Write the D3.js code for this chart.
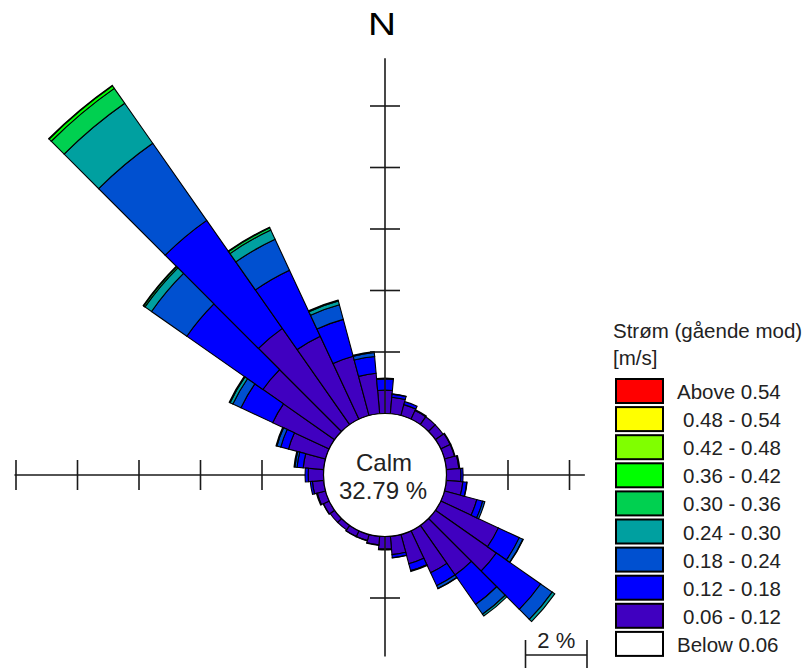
<!DOCTYPE html>
<html>
<head>
<meta charset="utf-8">
<script src="https://cdn.jsdelivr.net/npm/d3@7"></script>
<style>
  body { margin: 0; background: #fff; }
  svg { display: block; font-family: "Liberation Sans", Arial, sans-serif; }
</style>
</head>
<body>
<svg id="chart"></svg>
<script>
// direction sectors (going towards), 10 degree bins
const directions = [0, 10, 20, 30, 40, 50, 60, 70, 80, 90, 100, 110, 120, 130, 140, 150, 160, 170,
  180, 190, 200, 210, 220, 230, 240, 250, 260, 270, 280, 290, 300, 310, 320, 330, 340, 350]

// frequency in % per speed class
const s006_012 = [0.76, 0.54, 0.37, 0.31, 0.31, 0.31, 0.34, 0.34, 0.41, 0.47, 0.54, 1.09, 2.07, 2.42, 1.97, 1.51, 0.99, 0.60,
  0.41, 0.28, 0.21, 0.21, 0.18, 0.18, 0.21, 0.28, 0.37, 0.50, 0.67, 1.25, 2.03, 2.85, 3.82, 2.98, 2.00, 1.32]
const s012_018 = [0.36, 0.10, 0.10, 0.03, 0, 0, 0.02, 0.02, 0.03, 0.07, 0.13, 0.20, 0.75, 1.76, 1.17, 0.46, 0.23, 0.10,
  0.03, 0.02, 0.01, 0.01, 0, 0, 0.01, 0.03, 0.07, 0.10, 0.20, 0.26, 1.14, 3.02, 4.29, 2.37, 1.24, 0.55]
const s018_024 = [0.03, 0.01, 0, 0, 0, 0, 0, 0, 0, 0, 0.01, 0.07, 0.13, 0.46, 0.39, 0.10, 0.03, 0.01,
  0, 0, 0, 0, 0, 0, 0, 0, 0, 0, 0.07, 0.13, 0.29, 1.40, 3.06, 1.11, 0.49, 0.13]
const s024_030 = [0, 0, 0, 0, 0, 0, 0, 0, 0, 0, 0, 0, 0.01, 0.10, 0.07, 0.01, 0, 0,
  0, 0, 0, 0, 0, 0, 0, 0, 0, 0, 0.03, 0.03, 0.10, 0.26, 1.59, 0.33, 0.13, 0.03]
const s030_036 = [0, 0, 0, 0, 0, 0, 0, 0, 0, 0, 0, 0, 0, 0, 0, 0, 0, 0,
  0, 0, 0, 0, 0, 0, 0, 0, 0, 0, 0, 0, 0.03, 0.05, 0.59, 0.08, 0.03, 0]
const s036_042 = [0, 0, 0, 0, 0, 0, 0, 0, 0, 0, 0, 0, 0, 0, 0, 0, 0, 0,
  0, 0, 0, 0, 0, 0, 0, 0, 0, 0, 0, 0, 0, 0.02, 0.10, 0.02, 0, 0]
const s042_048 = [0, 0, 0, 0, 0, 0, 0, 0, 0, 0, 0, 0, 0, 0, 0, 0, 0, 0,
  0, 0, 0, 0, 0, 0, 0, 0, 0, 0, 0, 0, 0, 0, 0.02, 0, 0, 0]
const s048_054 = [0, 0, 0, 0, 0, 0, 0, 0, 0, 0, 0, 0, 0, 0, 0, 0, 0, 0,
  0, 0, 0, 0, 0, 0, 0, 0, 0, 0, 0, 0, 0, 0, 0, 0, 0, 0]
const s054_up = [0, 0, 0, 0, 0, 0, 0, 0, 0, 0, 0, 0, 0, 0, 0, 0, 0, 0,
  0, 0, 0, 0, 0, 0, 0, 0, 0, 0, 0, 0, 0, 0, 0, 0, 0, 0]

const calmPct = 32.79

// legend, top to bottom
const legendLabels = ['Above 0.54', '0.48 - 0.54', '0.42 - 0.48', '0.36 - 0.42', '0.30 - 0.36',
  '0.24 - 0.30', '0.18 - 0.24', '0.12 - 0.18', '0.06 - 0.12', 'Below 0.06']
const legendColors = ['#ff0000', '#ffff00', '#80ff00', '#00ff00', '#00d050',
  '#00a0a0', '#0050d0', '#0000ff', '#4000c0', '#ffffff']

// stack order, inside out
const keys = ['s006_012', 's012_018', 's018_024', 's024_030', 's030_036', 's036_042', 's042_048', 's048_054', 's054_up']
const series = [s006_012, s012_018, s018_024, s024_030, s030_036, s036_042, s042_048, s048_054, s054_up]
const keyColor = {}
keys.forEach((k, i) => { keyColor[k] = legendColors[8 - i] })

const width = 812, height = 668
const cx = 385, cy = 475
const calmR = 61.5

// 2 % per 61.5 px, measured from the calm circle edge
const r = d3.scaleLinear().domain([0, 10]).range([calmR, calmR + 307.5])

const svg = d3.select('#chart').attr('width', width).attr('height', height)

const rows = directions.map((dir, i) => {
  let row = { dir: dir }
  keys.forEach((k, j) => { row[k] = series[j][i] })
  return row
})
const stacked = d3.stack().keys(keys)(rows)

const rad = a => a * Math.PI / 180
const arc = d3.arc()
  .innerRadius(d => r(d[0]))
  .outerRadius(d => r(d[1]))
  .startAngle(d => rad(d.data.dir - 5))
  .endAngle(d => rad(d.data.dir + 5))

const g = svg.append('g').attr('transform', `translate(${cx},${cy})`)

// axes: how far each arm reaches (in %) and where ticks sit
const armExtent = { up: 11.55, down: 3.9, left: 10.05, right: 4.5 }
const ticksUp = [2, 4, 6, 8, 10]
const ticksLeft = [2, 4, 6, 8, 10]
const ticksRight = [2, 4]
const ticksDown = [2]
const tickHalf = 15
const axisColor = '#1a1a1a'

// horizontal arm sits under the bars
const axH = g.append('g').attr('stroke', axisColor).attr('stroke-width', 1.6)
axH.append('line').attr('y1', 0).attr('y2', 0).attr('x1', -r(armExtent.left)).attr('x2', r(armExtent.right))
axH.selectAll('line.tl').data(ticksLeft).join('line').attr('class', 'tl')
  .attr('y1', -tickHalf).attr('y2', tickHalf).attr('x1', d => -r(d)).attr('x2', d => -r(d))
axH.selectAll('line.tr').data(ticksRight).join('line').attr('class', 'tr')
  .attr('y1', -tickHalf).attr('y2', tickHalf).attr('x1', d => r(d)).attr('x2', d => r(d))

g.selectAll('g.layer')
  .data(stacked)
  .join('g')
  .attr('class', 'layer')
  .attr('fill', d => keyColor[d.key])
  .selectAll('path')
  .data(d => d.filter(p => p[1] - p[0] > 0))
  .join('path')
  .attr('d', arc)
  .attr('stroke', '#000')
  .attr('stroke-width', 1.1)
  .attr('stroke-linejoin', 'miter')

// vertical arm is drawn over them
const axV = g.append('g').attr('stroke', axisColor).attr('stroke-width', 1.6)
axV.append('line').attr('x1', 0).attr('x2', 0).attr('y1', -r(armExtent.up)).attr('y2', r(armExtent.down))
axV.selectAll('line.tu').data(ticksUp).join('line').attr('class', 'tu')
  .attr('x1', -tickHalf).attr('x2', tickHalf).attr('y1', d => -r(d)).attr('y2', d => -r(d))
axV.selectAll('line.td').data(ticksDown).join('line').attr('class', 'td')
  .attr('x1', -tickHalf).attr('x2', tickHalf).attr('y1', d => r(d)).attr('y2', d => r(d))

// calm circle
g.append('circle').attr('r', calmR).attr('fill', '#fff').attr('stroke', '#000').attr('stroke-width', 1.2)
g.append('text').attr('x', -1).attr('y', -4).attr('text-anchor', 'middle')
  .attr('font-size', 24).attr('fill', '#222').text('Calm')
g.append('text').attr('x', -2).attr('y', 24).attr('text-anchor', 'middle')
  .attr('font-size', 24).attr('fill', '#222').text(calmPct.toFixed(2) + ' %')

// north label
svg.append('text').attr('text-anchor', 'middle')
  .attr('transform', `translate(${cx - 3},35) scale(1.25,1)`)
  .attr('font-size', 31).attr('fill', '#000').text('N')

// scale bar: 2 %
const barLen = r(2) - r(0)
const sb = svg.append('g').attr('transform', 'translate(525.5,655)')
sb.append('line').attr('x1', 0).attr('x2', barLen).attr('y1', 0).attr('y2', 0).attr('stroke', axisColor).attr('stroke-width', 1.6)
sb.append('line').attr('x1', 0).attr('x2', 0).attr('y1', -15).attr('y2', 15).attr('stroke', axisColor).attr('stroke-width', 1.6)
sb.append('line').attr('x1', barLen).attr('x2', barLen).attr('y1', -15).attr('y2', 15).attr('stroke', axisColor).attr('stroke-width', 1.6)
sb.append('text').attr('x', barLen / 2).attr('y', -7).attr('text-anchor', 'middle')
  .attr('font-size', 22).attr('fill', '#222').text('2 %')

// legend
const lg = svg.append('g').attr('transform', 'translate(613,0)')
lg.append('text').attr('x', 0).attr('y', 338).attr('font-size', 20.5).attr('fill', '#222').text('Strøm (gående mod)')
lg.append('text').attr('x', 0).attr('y', 365).attr('font-size', 20.5).attr('fill', '#222').text('[m/s]')

const item = lg.selectAll('g.item').data(legendLabels).join('g').attr('class', 'item')
  .attr('transform', (d, i) => `translate(0,${379 + i * 28.1})`)
item.append('rect').attr('x', 3).attr('y', 0).attr('width', 47).attr('height', 24)
  .attr('fill', (d, i) => legendColors[i]).attr('stroke', '#000').attr('stroke-width', 2)
item.append('text')
  .attr('x', d => /^\d/.test(d) ? 70 : 64)
  .attr('y', 20).attr('font-size', 20.5).attr('fill', '#222').text(d => d)
</script>
</body>
</html>
